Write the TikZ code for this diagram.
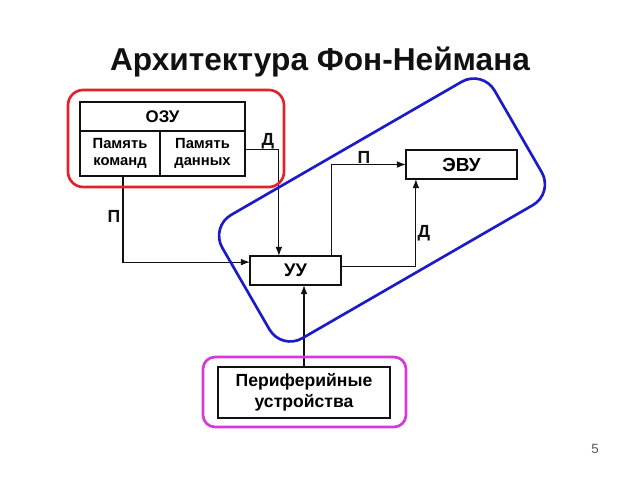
\documentclass[tikz,border=0pt]{standalone}
\usepackage{fontspec}
\setmainfont{Liberation Sans}
\usetikzlibrary{arrows.meta,positioning}
\definecolor{ink}{HTML}{111111}
\definecolor{ramred}{HTML}{E0232B}
\definecolor{cpublue}{HTML}{1B1BC8}
\definecolor{iomag}{HTML}{D838D8}
\definecolor{muted}{HTML}{555555}
\tikzset{
  >={Latex[length=2.3mm,width=1.7mm]},
  box/.style={draw=ink, line width=1.1pt, inner sep=0pt, outer sep=0pt,
              align=center, font=\bfseries\fontsize{10.5}{12.5}\selectfont},
  wire/.style={draw=ink, line width=.8pt, ->},
  lbl/.style={font=\bfseries\fontsize{12.5}{14}\selectfont, text=ink},
  frame/.style={line width=1.9pt, rounded corners=.38cm}
}
\begin{document}
\begin{tikzpicture}[x=1cm,y=1cm]
\useasboundingbox (0,0) rectangle (16,12);

% Title
\node[font=\bfseries\fontsize{22.5}{26}\selectfont, anchor=base, text=ink] (title)
  at (8.0,10.225) {Архитектура Фон-Неймана};

% Memory block
\node[box, minimum width=4.125cm, minimum height=.725cm,
      font=\bfseries\fontsize{12}{14}\selectfont] (ozu) at (4.0625,9.0875) {ОЗУ};
\node[box, minimum width=2cm, minimum height=1.125cm, anchor=north west]
  (cmdmem) at (ozu.south west) {Память\\команд};
\node[box, minimum width=2.125cm, minimum height=1.125cm, anchor=north east]
  (datamem) at (ozu.south east) {Память\\данных};

% Control unit, ALU and peripherals
\node[box, minimum width=2.275cm, minimum height=.725cm,
      font=\bfseries\fontsize{13}{15}\selectfont] (uu) at (7.3875,5.2375) {УУ};
\node[box, minimum width=2.775cm, minimum height=.725cm,
      font=\bfseries\fontsize{13.5}{15}\selectfont] (evu) at (11.5375,7.8875) {ЭВУ};
\node[box, minimum width=4.3cm, minimum height=1.275cm,
      font=\bfseries\fontsize{12.5}{15}\selectfont] (periph) at (7.6,2.1875)
  {Периферийные\\устройства};

% Connections
\draw[wire] ([xshift=.075cm]cmdmem.south) |- ([yshift=.21cm]uu.west);
\draw[wire] ([yshift=.11cm]datamem.east) -| ([xshift=-.415cm]uu.north);
\draw[wire] ([xshift=.89cm]uu.north) |- (evu.west);
\draw[wire] ([yshift=.09cm]uu.east) -| ([xshift=-1.14cm]evu.south);
\draw[wire] (periph.north) -- (periph.north |- uu.south);

% Flow labels
\node[lbl] (dlabA) at (6.7,8.475) {Д};
\node[lbl] (plabA) at (2.85,6.6) {П};
\node[lbl] (plabB) at (9.1,8.075) {П};
\node[lbl] (dlabB) at (10.6,6.175) {Д};

% Grouping frames
\draw[frame, draw=ramred] (1.7,7.325) rectangle (7.1,9.75);
\draw[frame, draw=iomag, rounded corners=.3cm] (5.075,1.325) rectangle (10.15,3.075);
\draw[frame, draw=cpublue, rounded corners=.6cm, rotate around={30:(9.55,6.75)}]
  (5.62,4.97) rectangle (13.48,8.53);

\node[font=\fontsize{9.5}{11}\selectfont, text=muted] (pagenum) at (14.875,.775) {5};

\end{tikzpicture}
\end{document}
